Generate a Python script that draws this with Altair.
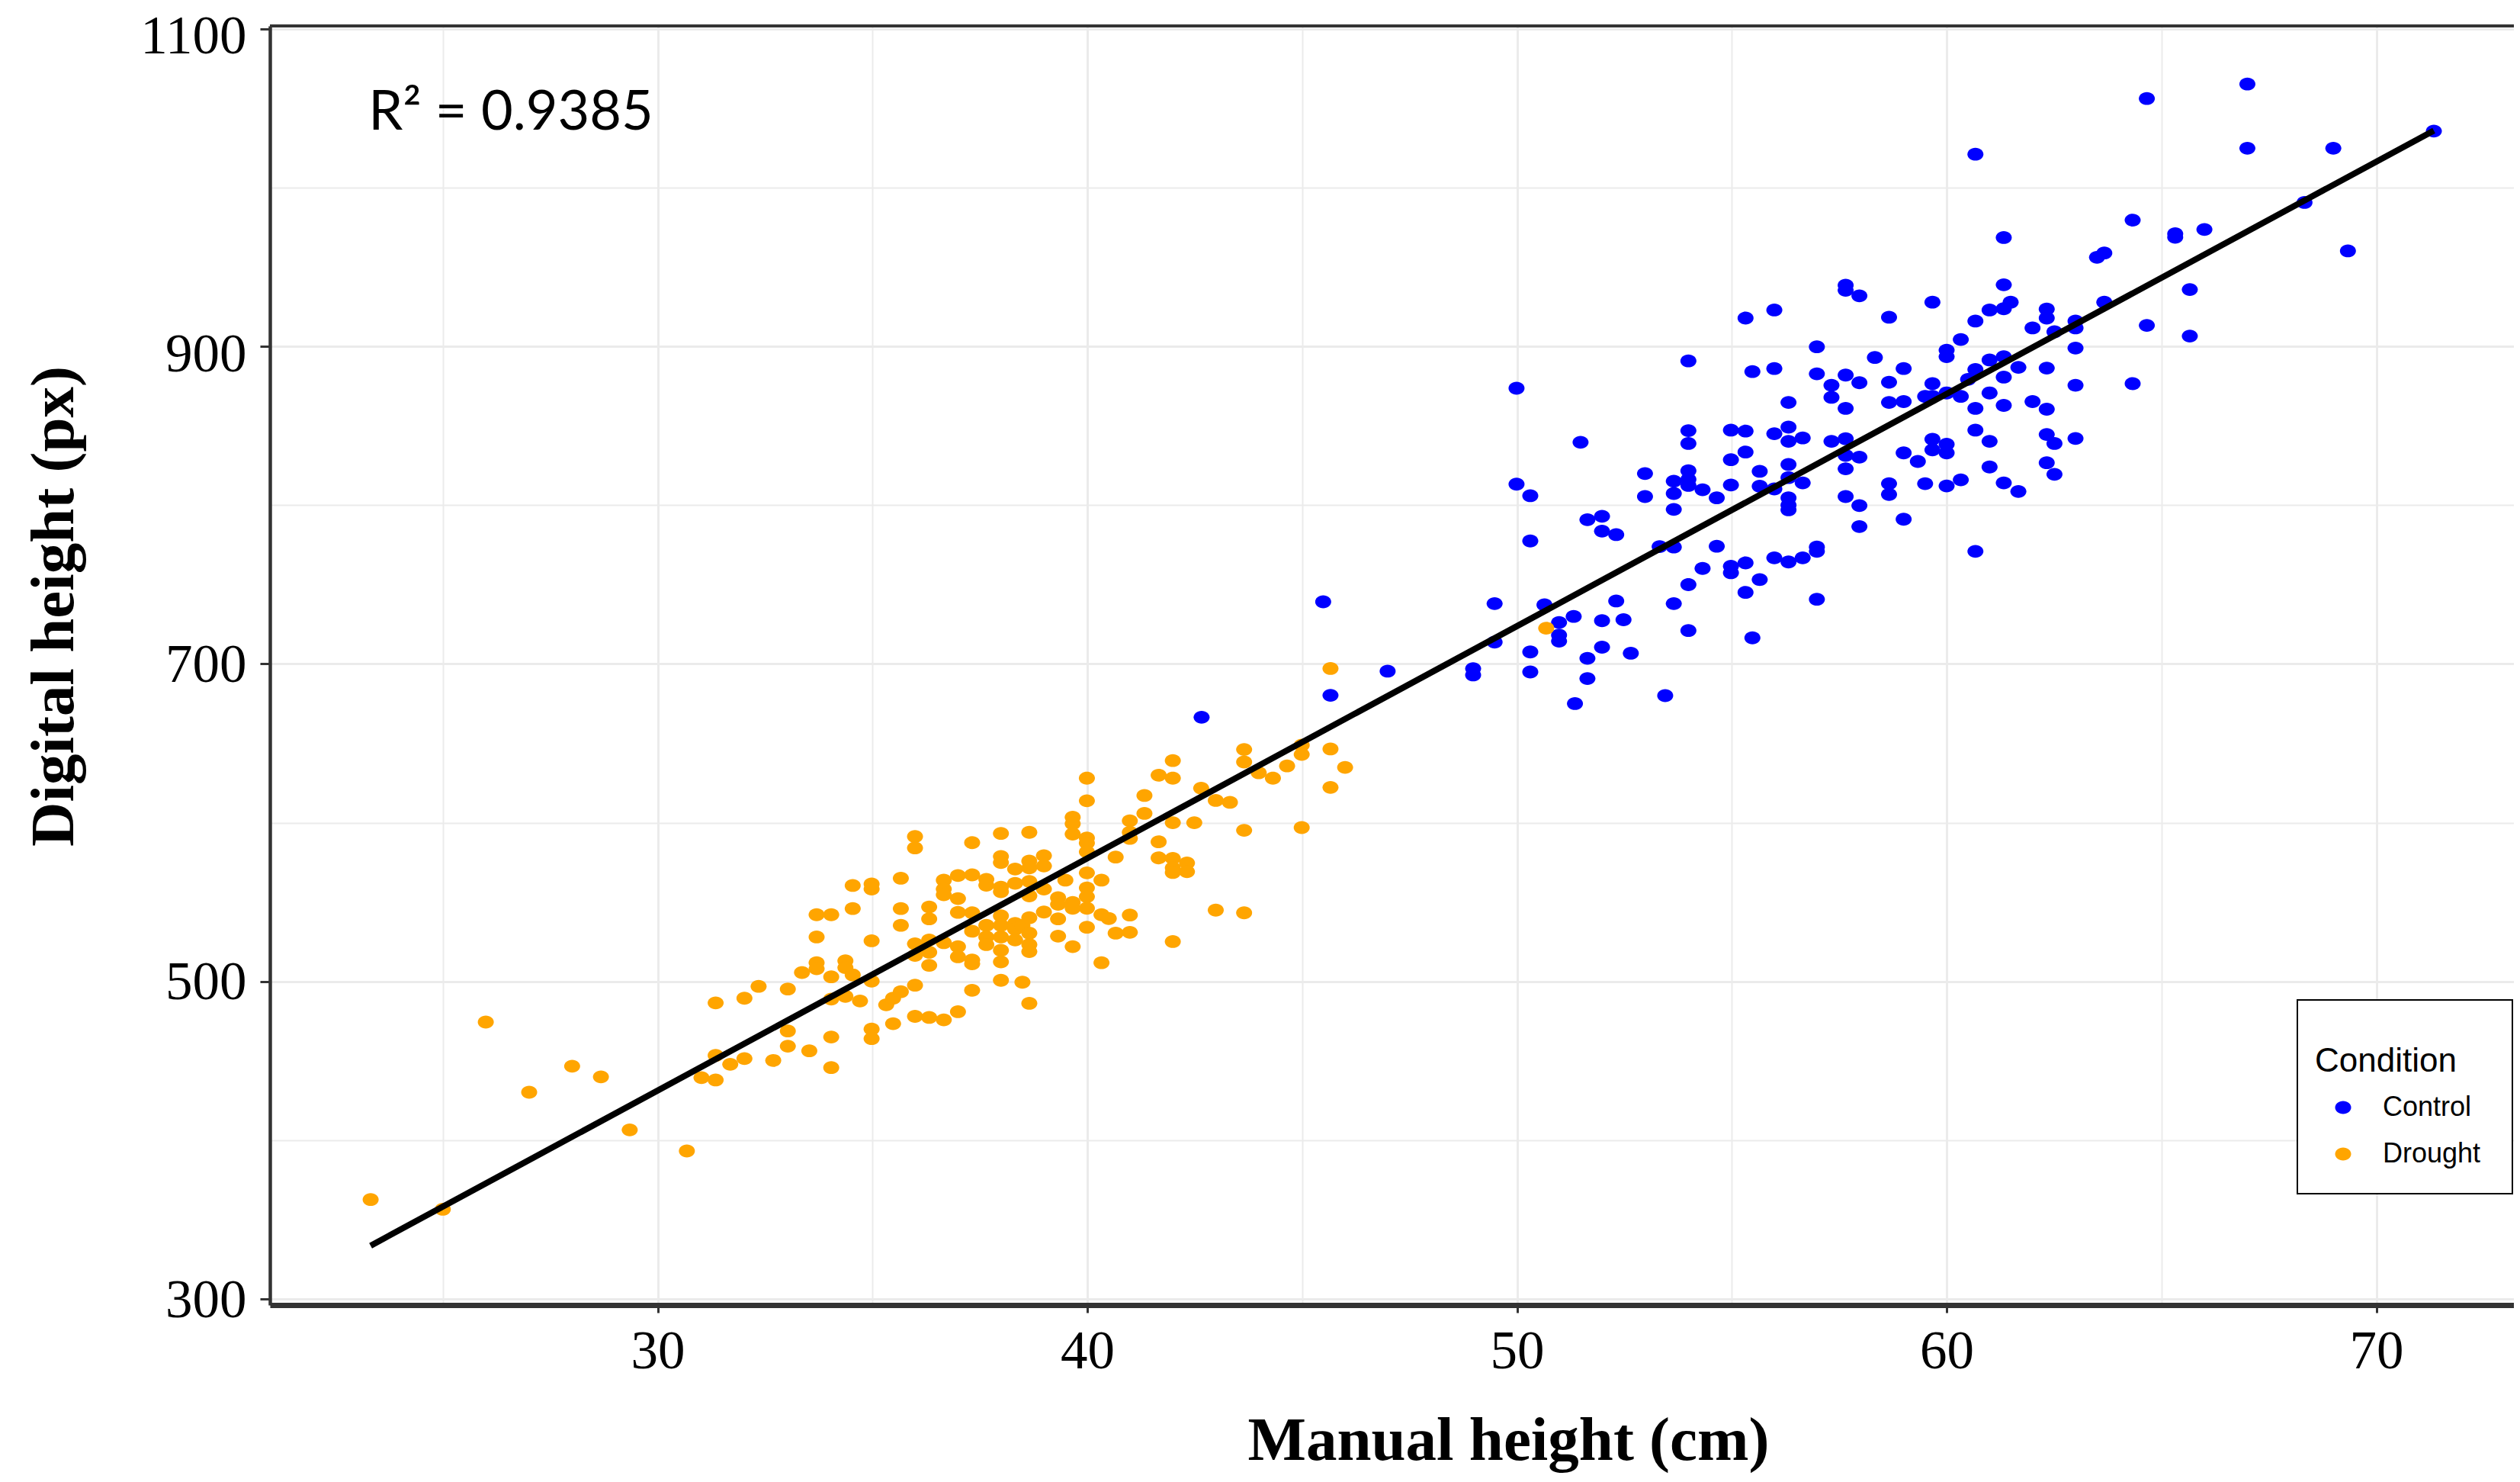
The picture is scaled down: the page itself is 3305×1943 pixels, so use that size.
import altair as alt
import pandas as pd

# ---------------- data ----------------
conditions = ["Control", "Drought"]
colors = ["#0000FF", "#FFA500"]

control_x = [42.66, 45.66, 45.49, 46.99, 48.98, 48.98, 49.48, 49.48, 49.99, 49.99,
             50.31, 50.31, 50.31, 50.31, 50.64, 50.98, 50.98, 50.98, 51.32, 51.35,
             51.48, 51.64, 51.64, 51.64, 51.98, 51.98, 51.98, 51.98, 52.31, 52.31,
             52.48, 52.65, 52.98, 52.98, 53.32, 53.45, 53.65, 53.65, 53.65, 53.65,
             53.65, 53.99, 53.99, 53.99, 53.99, 53.99, 53.99, 53.99, 53.99, 54.32,
             54.32, 54.65, 54.65, 54.98, 54.98, 54.98, 54.98, 54.98, 55.32, 55.32,
             55.32, 55.32, 55.32, 55.48, 55.48, 55.65, 55.65, 55.65, 55.99, 55.99,
             55.99, 55.99, 55.99, 56.32, 56.32, 56.32, 56.32, 56.32, 56.32, 56.32,
             56.32, 56.32, 56.65, 56.65, 56.65, 56.98, 56.98, 56.98, 56.98, 56.98,
             57.32, 57.32, 57.32, 57.65, 57.65, 57.65, 57.65, 57.65, 57.65, 57.65,
             57.65, 57.97, 57.97, 57.97, 57.97, 57.97, 58.33, 58.66, 58.66, 58.66,
             58.66, 58.66, 59.00, 59.00, 59.00, 59.00, 59.33, 59.50, 59.50, 59.67,
             59.67, 59.67, 59.67, 59.67, 60.00, 60.00, 60.00, 60.00, 60.00, 60.00,
             60.33, 60.33, 60.33, 60.50, 60.67, 60.67, 60.67, 60.67, 60.67, 60.67,
             61.00, 61.00, 61.00, 61.00, 61.00, 61.33, 61.33, 61.33, 61.33, 61.33,
             61.33, 61.33, 61.49, 61.67, 61.67, 62.00, 62.00, 62.33, 62.33, 62.33,
             62.33, 62.33, 62.33, 62.51, 62.51, 62.51, 63.00, 63.00, 63.00, 63.00,
             63.00, 63.50, 63.67, 63.67, 64.33, 64.33, 64.66, 64.66, 65.32, 65.32,
             65.66, 65.66, 66.00, 67.00, 67.00, 68.33, 69.00, 69.34, 71.34]
control_y = [666.4, 680.2, 739.1, 695.4, 697.0, 693.0, 738.0, 713.7, 873.6, 813.2,
             805.9, 777.4, 707.5, 694.9, 737.2, 726.1, 718.1, 714.3, 729.9, 675.0,
             839.6, 790.8, 703.5, 690.8, 793.0, 783.6, 727.2, 710.5, 781.4, 739.6,
             727.8, 706.7, 819.9, 805.4, 773.9, 680.0, 815.1, 807.3, 797.3, 773.6,
             738.0, 890.8, 846.9, 838.8, 821.6, 816.2, 812.4, 749.9, 721.0, 809.7,
             760.1, 804.6, 774.1, 847.2, 828.6, 812.7, 761.5, 757.4, 917.8, 846.6,
             833.4, 763.6, 745.0, 884.1, 716.4, 821.3, 811.9, 753.1, 922.9, 886.0,
             845.0, 810.2, 766.8, 864.7, 849.1, 840.2, 825.6, 817.3, 804.6, 800.0,
             797.0, 764.2, 842.3, 814.0, 766.8, 899.7, 882.7, 773.6, 770.9, 740.7,
             875.5, 867.9, 840.2, 938.5, 935.3, 881.9, 860.9, 841.8, 831.3, 822.9,
             805.4, 931.8, 877.1, 830.2, 799.7, 786.5, 893.0, 918.3, 877.4, 864.7,
             813.5, 806.7, 886.0, 865.2, 832.9, 791.1, 827.5, 868.5, 813.5, 927.8,
             876.5, 868.5, 841.5, 834.8, 897.6, 893.5, 870.6, 838.3, 832.9, 812.1,
             904.3, 868.5, 815.9, 879.2, 1021.0, 915.9, 885.4, 860.9, 847.2, 770.9,
             922.9, 891.4, 870.6, 840.2, 824.0, 968.5, 938.8, 923.7, 893.5, 880.6,
             862.8, 814.0, 927.8, 886.8, 808.6, 911.6, 865.2, 923.5, 917.8, 886.3,
             860.4, 844.5, 826.7, 909.2, 838.8, 819.4, 915.9, 911.6, 898.9, 875.5,
             842.0, 956.1, 958.8, 927.8, 979.5, 876.5, 1056.1, 913.2, 970.9, 968.7,
             935.8, 906.5, 973.6, 1065.2, 1024.8, 990.6, 1024.8, 960.1, 1035.6]

drought_x = [23.32, 25.00, 26.00, 27.01, 28.01, 28.68, 29.35, 30.68, 31.02, 31.35,
             31.35, 31.35, 31.69, 32.02, 32.02, 32.35, 32.69, 33.03, 33.03, 33.03,
             33.36, 33.53, 33.70, 33.70, 33.70, 33.70, 34.04, 34.04, 34.04, 34.04,
             34.04, 34.37, 34.37, 34.37, 34.54, 34.71, 34.54, 34.54,
             34.98, 34.98, 34.98, 34.98, 34.98, 34.98,
             35.32, 35.48, 35.48, 35.66, 35.66, 35.66, 35.66, 35.99, 35.99, 35.99,
             35.99, 35.99, 35.99, 36.32, 36.32, 36.32, 36.32, 36.32, 36.32, 36.66,
             36.66, 36.66, 36.66, 36.66, 36.99, 36.99, 36.99, 36.99, 36.99, 36.99,
             37.32, 37.32, 37.32, 37.32, 37.32, 37.32, 37.32, 37.65, 37.65, 37.65,
             37.65, 37.65, 37.99, 37.99, 37.99, 37.99, 37.99, 37.99, 37.99, 37.99,
             37.99, 37.99, 37.99, 38.32, 38.32, 38.32, 38.32, 38.32, 38.49, 38.49,
             38.65, 38.65, 38.65, 38.65, 38.65, 38.65, 38.65, 38.65, 38.65, 38.65,
             38.99, 38.99, 38.99, 38.99, 39.32, 39.32, 39.32, 39.32, 39.49, 39.66,
             39.66, 39.66, 39.66, 39.66, 39.66, 39.99, 39.99, 39.99, 39.99, 39.99,
             39.99, 39.99, 39.99, 39.99, 39.99, 40.33, 40.33, 40.33, 40.50, 40.66,
             40.66, 40.99, 40.99, 40.99, 40.99, 40.99, 41.33, 41.33, 41.66, 41.66,
             41.66, 41.99, 41.99, 41.99, 41.99, 41.99, 41.99, 41.99, 42.32, 42.32,
             42.49, 42.65, 42.99, 42.99, 43.32, 43.65, 43.65, 43.65, 43.65, 43.99,
             44.32, 44.65, 44.99, 44.99, 44.99, 45.66, 45.66, 45.66, 46.00, 50.68]
drought_y = [362.6, 356.5, 474.4, 430.2, 446.6, 439.9, 406.5, 393.2, 439.4, 437.9,
             453.4, 486.5, 447.8, 451.4, 489.4, 496.9, 450.2, 495.2, 468.8, 459.2,
             505.6, 456.3, 542.0, 528.0, 511.8, 508.0, 542.0, 502.9, 488.9, 465.0,
             445.7, 513.0, 508.7, 490.6, 504.1, 487.7, 560.4, 545.9,
             561.4, 558.2, 525.6, 500.2, 470.0, 464.0,
             485.3, 489.4, 473.4, 493.5, 565.0, 545.9, 535.3, 591.3, 584.1, 523.7,
             516.4, 497.6, 478.0, 546.9, 539.4, 526.1, 518.4, 510.1, 477.3, 475.8,
             563.8, 558.2, 554.6, 524.4, 566.7, 552.2, 543.5, 521.9, 515.5, 480.9,
             587.4, 567.1, 543.2, 531.6, 513.5, 511.1, 494.4, 564.3, 560.6, 535.3,
             528.0, 523.2, 593.2, 578.7, 574.9, 559.4, 556.5, 541.3, 535.3, 528.0,
             519.6, 512.3, 500.7, 570.8, 561.8, 536.5, 532.9, 526.1, 499.5, 535.3,
             593.9, 575.8, 571.5, 563.0, 553.9, 540.1, 530.4, 523.2, 518.8, 486.2,
             579.2, 572.7, 558.2, 543.7, 552.7, 548.6, 539.4, 528.5, 563.8, 603.4,
             599.3, 592.8, 549.8, 546.1, 521.9, 628.0, 613.8, 590.3, 587.2, 581.6,
             568.4, 558.9, 553.4, 546.1, 534.1, 563.8, 542.0, 511.8, 539.6, 578.3,
             530.4, 601.2, 593.9, 590.1, 541.8, 530.9, 617.1, 605.8, 629.9, 587.9,
             577.8, 639.1, 628.0, 600.0, 577.5, 571.5, 568.6, 525.1, 574.6, 569.1,
             600.0, 621.7, 614.0, 544.9, 612.8, 646.1, 638.2, 595.2, 543.2, 631.4,
             628.0, 635.7, 648.8, 643.0, 596.9, 697.1, 646.4, 622.2, 634.8, 722.5]

x_ticks = [25, 30, 35, 40, 45, 50, 55, 60, 65, 70]
y_ticks = [300, 400, 500, 600, 700, 800, 900, 1000, 1100]
x_title = "Manual height (cm)"
y_title = "Digital height (px)"
legend_title = "Condition"
r2_label = "R\u00b2 = 0.9385"
r2_x = [23.27]
r2_y = [1036.5]

# ---------------- tables ----------------
df = pd.DataFrame({
    "manual": control_x + drought_x,
    "digital": control_y + drought_y,
    "Condition": [conditions[0]] * len(control_x) + [conditions[1]] * len(drought_x),
})
ann = pd.DataFrame({"manual": r2_x, "digital": r2_y, "label": [r2_label]})

# ---------------- layout / style ----------------
PLOT_W = 2943
PLOT_H = 1677
ELLIPSE = "M-1,0A1,0.8,0,1,1,1,0A1,0.8,0,1,1,-1,0Z"
SERIF = "Liberation Serif"
SANS = "Liberation Sans"
LEG_X, LEG_Y = 2659, 1277          # legend box, pixels from the plot's top-left
LEG_X2, LEG_Y2 = 2941, 1531

x_scale = alt.Scale(domain=[20.976, 73.203], nice=False, zero=False)
y_scale = alt.Scale(domain=[296.16, 1101.8], nice=False, zero=False)

x_major = "datum.value % 10 === 0"
y_major = "datum.value % 200 === 100"

x_axis = alt.Axis(
    values=x_ticks, format="d", title=x_title,
    labelExpr=f"{x_major} ? datum.label : ''",
    labelFont=SERIF, labelFontSize=71, labelColor="black", labelPadding=16,
    labelFlush=False, labelOverlap=False,
    tickSize=10, tickWidth=3, tickColor="#333333",
    tickOpacity={"condition": {"test": x_major, "value": 1}, "value": 0},
    domainColor="#333333", domainWidth=7,
    grid=True, gridColor="#EBEBEB",
    gridWidth={"condition": {"test": x_major, "value": 3}, "value": 2},
    titleFont=SERIF, titleFontSize=81, titleFontWeight="bold", titleColor="black",
    titleX=1624, titleY=202, titleBaseline="alphabetic", titleAlign="center",
)
y_axis = alt.Axis(
    values=y_ticks, format="d", title=y_title,
    labelExpr=f"{y_major} ? datum.label : ''",
    labelFont=SERIF, labelFontSize=71, labelColor="black", labelPadding=18,
    labelOffset={"condition": {"test": "datum.value >= 900", "value": 11}, "value": 2},
    labelOverlap=False, labelFlush=False,
    tickSize=13, tickWidth=3, tickColor="#333333",
    tickOpacity={"condition": {"test": y_major, "value": 1}, "value": 0},
    domainColor="#333333", domainWidth=4.5,
    grid=True, gridColor="#EBEBEB",
    gridWidth={"condition": {"test": y_major, "value": 3}, "value": 2},
    titleFont=SERIF, titleFontSize=81, titleFontWeight="bold", titleColor="black",
    titleAngle=270, titleX=-259, titleY=760.5, titleBaseline="alphabetic",
    titleAlign="center",
)

X = alt.X("manual:Q", scale=x_scale, axis=x_axis)
Y = alt.Y("digital:Q", scale=y_scale, axis=y_axis)

legend = alt.Legend(
    orient="none", legendX=LEG_X, legendY=LEG_Y,
    title=["", legend_title], titleFont=SANS, titleFontSize=44,
    titleFontWeight="normal", titleColor="black", titleLineHeight=36,
    titlePadding=20, titleAnchor="start", titleLimit=600,
    labelFont=SANS, labelFontSize=36, labelColor="black", labelOffset=34,
    labelLimit=600,
    symbolType=ELLIPSE, symbolSize=441, symbolStrokeWidth=0, symbolOffset=19,
    symbolOpacity=1,
    rowPadding=25, padding=23,
)

# white legend frame (decoration), drawn above the grid and below the legend
legend_box = alt.Chart(pd.DataFrame({"z": [0]})).mark_rect(
    fill="white", stroke="black", strokeWidth=2
).encode(x=alt.value(LEG_X), x2=alt.value(LEG_X2),
         y=alt.value(LEG_Y), y2=alt.value(LEG_Y2))

points = alt.Chart(df).mark_point(
    filled=True, shape=ELLIPSE, size=441, opacity=1, strokeWidth=0
).encode(
    x=X, y=Y,
    color=alt.Color("Condition:N", scale=alt.Scale(domain=conditions, range=colors),
                    legend=legend),
)

fit = alt.Chart(df).transform_regression("manual", "digital").mark_line(
    color="black", strokeWidth=8
).encode(x=X, y=Y)

r2 = alt.Chart(ann).mark_text(
    align="left", baseline="alphabetic", font="Lato", fontSize=72, color="black"
).encode(x=X, y=Y, text="label:N")

top_border = alt.Chart(pd.DataFrame({"z": [0]})).mark_rule(
    color="#333333", strokeWidth=4
).encode(x=alt.value(0), x2=alt.value(PLOT_W), y=alt.value(0))

chart = alt.layer(legend_box, points, fit, r2, top_border).properties(
    width=PLOT_W, height=PLOT_H,
    autosize=alt.AutoSizeParams(type="none"),
    padding={"left": 346, "top": 26, "right": 0, "bottom": 222},
).configure_view(stroke=None).configure(background="white")

chart.save("out.html", embed_options={"renderer": "svg", "actions": False})
